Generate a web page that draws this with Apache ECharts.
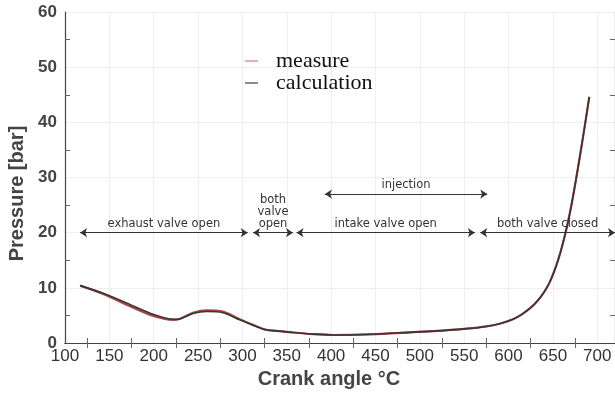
<!DOCTYPE html>
<html>
<head>
<meta charset="utf-8">
<script src="https://cdn.jsdelivr.net/npm/echarts@6.0.0/dist/echarts.min.js"></script>
<style>
  html, body { margin: 0; padding: 0; background: #fff; }
  #chart { width: 615px; height: 393px; }
</style>
</head>
<body>
<div id="chart"></div>
<script>
// crank angle samples (deg)
const angle = [117, 143, 170, 196, 222, 230, 245, 260, 278, 297, 316, 327, 339, 357, 380, 402, 440, 478, 515, 553, 575, 590, 605, 615, 625, 633, 640, 646, 651, 656, 661, 666, 671, 676, 681, 686, 691];
const calcP = [10.4, 9.0, 7.2, 5.4, 4.3, 4.4, 5.4, 5.7, 5.5, 4.2, 3.0, 2.35, 2.2, 1.9, 1.6, 1.45, 1.55, 1.85, 2.15, 2.6, 3.0, 3.5, 4.3, 5.2, 6.4, 7.7, 9.2, 10.9, 12.8, 15.1, 17.9, 21.2, 25.1, 29.6, 34.4, 39.4, 44.6];
const measP = [10.4, 8.9, 6.9, 5.1, 4.2, 4.4, 5.5, 5.9, 5.7, 4.3, 3.0, 2.4, 2.2, 1.9, 1.6, 1.45, 1.55, 1.85, 2.15, 2.6, 3.0, 3.5, 4.3, 5.2, 6.4, 7.7, 9.2, 10.9, 12.8, 15.1, 17.9, 21.2, 25.1, 29.6, 34.4, 39.4, 44.6];

// phase arrows: [name, from, to, pressure level]
const phases = [
  ["exhaust valve open", 117, 306, 20],
  ["both\nvalve\nopen", 312, 357, 20],
  ["intake valve open", 361, 562, 20],
  ["both valve closed", 568, 720, 20],
  ["injection", 393, 576, 27]
];

const xTicks = [125, 175, 225, 275, 325, 375, 425, 475, 525, 575, 625, 675];
const yTicks = [5, 15, 25, 35, 45, 55];

const chart = echarts.init(document.getElementById("chart"));

const axisColor = "#444";
const tickAxis = (extra) => Object.assign({
  type: "value",
  axisLine: { show: false },
  axisLabel: { show: false },
  splitLine: { show: false },
  axisTick: { show: true, inside: true, length: 5, lineStyle: { color: "#666" } }
}, extra);

chart.setOption({
  animation: false,
  backgroundColor: "#fff",
  grid: { left: 65, right: 0, top: 12, bottom: 50, outerBoundsMode: "none" },
  legend: {
    orient: "vertical",
    left: 240,
    top: 45,
    itemGap: 0,
    itemWidth: 13,
    itemHeight: 1.5,
    icon: "rect",
    textStyle: { fontFamily: "Liberation Serif", fontSize: 22, color: "#111", padding: [0, 0, 0, 13] },
    data: [
      { name: "measure", itemStyle: { color: "#d49a9a" } },
      { name: "calculation", itemStyle: { color: "#666" } }
    ]
  },
  xAxis: [
    {
      type: "value", min: 100, max: 720, interval: 50,
      name: "Crank angle \u00B0C", nameLocation: "middle", nameGap: 26,
      nameTextStyle: { fontFamily: "Liberation Sans", fontSize: 20, fontWeight: "bold", color: "#444", padding: [0, 22, 0, 0] },
      axisLine: { lineStyle: { color: axisColor, width: 1.2 } },
      axisTick: { show: false },
      axisLabel: {
        margin: 5, fontFamily: "Liberation Sans Narrow, Liberation Sans", fontSize: 17, color: "#333",
        formatter: (v) => (v % 50 === 0 && v <= 700 ? String(v) : "")
      },
      splitLine: { show: true, lineStyle: { color: "#efefef" } }
    },
    tickAxis({ min: 100, max: 720, position: "bottom", axisTick: { show: true, inside: true, length: 5, customValues: xTicks, lineStyle: { color: "#666" } } }),
    tickAxis({ min: 100, max: 720, position: "top", axisLine: { show: true, lineStyle: { color: axisColor, width: 1.2 } }, axisTick: { show: true, inside: true, length: 5, customValues: xTicks, lineStyle: { color: "#666" } } })
  ],
  yAxis: [
    {
      type: "value", min: 0, max: 60, interval: 10,
      name: "Pressure [bar]", nameLocation: "middle", nameGap: 38,
      nameTextStyle: { fontFamily: "Liberation Sans", fontSize: 20, fontWeight: "bold", color: "#444", padding: [0, 32, 0, 0] },
      axisLine: { show: true, lineStyle: { color: axisColor, width: 1.2 } },
      axisTick: { show: false },
      axisLabel: { margin: 8, fontFamily: "Liberation Sans", fontSize: 17, fontWeight: "bold", color: "#444" },
      splitLine: { show: true, lineStyle: { color: "#efefef" } }
    },
    tickAxis({ min: 0, max: 60, position: "left", axisTick: { show: true, inside: true, length: 5, customValues: yTicks, lineStyle: { color: "#666" } } }),
    tickAxis({ min: 0, max: 60, position: "right", axisLine: { show: true, lineStyle: { color: axisColor, width: 1.2 } }, axisTick: { show: true, inside: true, length: 5, customValues: yTicks, lineStyle: { color: "#666" } } })
  ],
  series: [
    {
      name: "measure",
      type: "line",
      smooth: 0.3,
      showSymbol: false,
      data: angle.map((a, i) => [a, measP[i]]),
      lineStyle: { color: "#a84848", width: 2.2 },
      z: 2
    },
    {
      name: "calculation",
      type: "line",
      smooth: 0.3,
      showSymbol: false,
      data: angle.map((a, i) => [a, calcP[i]]),
      lineStyle: { color: "#3c3434", width: 1.6 },
      z: 3,
      markLine: {
        silent: true,
        symbol: ["arrow", "arrow"],
        symbolSize: 7,
        lineStyle: { color: "#333", width: 1.1, type: "solid" },
        label: {
          show: true, position: "middle", distance: 3, formatter: "{b}",
          fontFamily: "DejaVu Sans", fontSize: 11.5, lineHeight: 12, color: "#333"
        },
        emphasis: { disabled: true },
        data: phases.map(([name, from, to, p]) => [
          { name: name, coord: [from, p] },
          { coord: [to, p] }
        ])
      }
    }
  ]
});
</script>
</body>
</html>
